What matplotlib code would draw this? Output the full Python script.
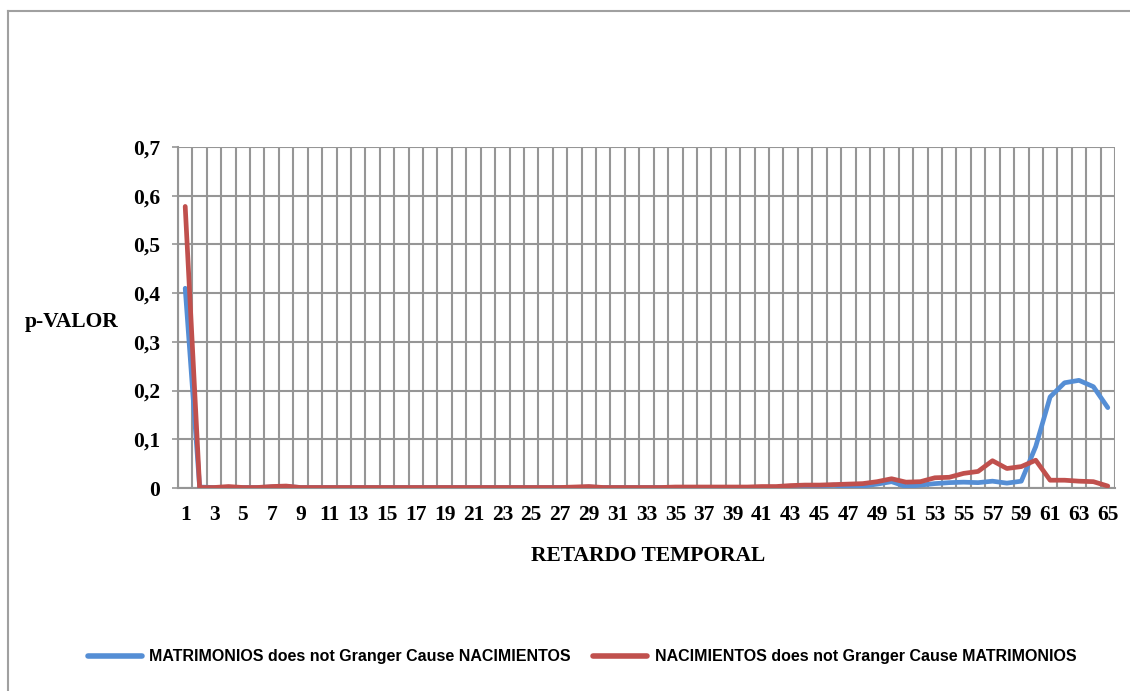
import numpy as np
import matplotlib
matplotlib.use('Agg')
import matplotlib.pyplot as plt
from matplotlib.lines import Line2D

# retardos temporales 1..65
retardos = list(range(1, 66))

# p-valores del test de causalidad de Granger
mat_nac = [0.410, 0.002, 0.001, 0.001, 0.001, 0.001, 0.002, 0.003, 0.001, 0.001,
           0.001, 0.001, 0.001, 0.001, 0.001, 0.001, 0.001, 0.001, 0.001, 0.001,
           0.001, 0.001, 0.001, 0.001, 0.001, 0.001, 0.001, 0.001, 0.002, 0.001,
           0.001, 0.001, 0.001, 0.001, 0.001, 0.001, 0.001, 0.001, 0.001, 0.001,
           0.001, 0.001, 0.003, 0.004, 0.004, 0.006, 0.002, 0.004, 0.008, 0.013,
           0.003, 0.006, 0.009, 0.011, 0.012, 0.011, 0.014, 0.010, 0.014, 0.085,
           0.187, 0.216, 0.221, 0.208, 0.165]

nac_mat = [0.578, 0.001, 0.001, 0.003, 0.001, 0.001, 0.003, 0.004, 0.001, 0.001,
           0.001, 0.001, 0.001, 0.001, 0.001, 0.001, 0.001, 0.001, 0.001, 0.001,
           0.001, 0.001, 0.001, 0.001, 0.001, 0.001, 0.001, 0.002, 0.003, 0.001,
           0.001, 0.001, 0.001, 0.001, 0.002, 0.002, 0.002, 0.002, 0.002, 0.002,
           0.003, 0.003, 0.005, 0.006, 0.006, 0.007, 0.008, 0.009, 0.013, 0.019,
           0.012, 0.013, 0.021, 0.022, 0.030, 0.034, 0.056, 0.040, 0.044, 0.057,
           0.016, 0.016, 0.014, 0.013, 0.004]

nombres = ['MATRIMONIOS does not Granger Cause NACIMIENTOS',
           'NACIMIENTOS does not Granger Cause MATRIMONIOS']
colores = ['#558ED5', '#C0504D']

y_ticks = [0, 0.1, 0.2, 0.3, 0.4, 0.5, 0.6, 0.7]
y_labels = ['0', '0,1', '0,2', '0,3', '0,4', '0,5', '0,6', '0,7']

serif = {'family': 'Liberation Serif', 'weight': 'bold'}
gris = '#969696'
tam = 15.5

fig = plt.figure(figsize=(11.3, 6.91), dpi=100)
ax = fig.add_axes([178 / 1130, 1 - 488 / 691, (1115 - 178) / 1130, (488 - 147) / 691])

ax.plot(retardos, mat_nac, color=colores[0], lw=3.4, solid_capstyle='round',
        solid_joinstyle='round', zorder=3)
ax.plot(retardos, nac_mat, color=colores[1], lw=3.4, solid_capstyle='round',
        solid_joinstyle='round', zorder=4)

ax.set_xlim(0.5, 65.5)
ax.set_ylim(0, 0.7)

ax.set_xticks(retardos[::2])
ax.set_xticklabels([str(r) for r in retardos[::2]], fontdict=serif, fontsize=tam)
ax.set_xticks(np.arange(0.5, 66, 1), minor=True)
ax.set_yticks(y_ticks)
ax.set_yticklabels(y_labels, fontdict=serif, fontsize=tam)
ax.tick_params(axis='x', which='both', length=0, pad=12)
ax.tick_params(axis='y', length=4, color=gris, width=1.2, pad=9)

ax.grid(True, axis='y', which='major', color=gris, lw=1.5)
ax.grid(True, axis='x', which='minor', color=gris, lw=1.5)
ax.grid(False, axis='x', which='major')
ax.set_axisbelow(True)

for lado in ['top', 'right']:
    ax.spines[lado].set_visible(False)
for lado in ['left', 'bottom']:
    ax.spines[lado].set_color(gris)
    ax.spines[lado].set_linewidth(1.5)

fig.text(72 / 1130, 1 - 322 / 691, 'p-VALOR', fontdict=serif, fontsize=tam,
         ha='center', va='center')
fig.text(648 / 1130, 1 - 556 / 691, 'RETARDO TEMPORAL', fontdict=serif, fontsize=tam,
         ha='center', va='center')

handles = [Line2D([], [], color=c, lw=4, solid_capstyle='round') for c in colores]
fig.legend(handles, nombres, loc='center', bbox_to_anchor=(582 / 1130, 1 - 657 / 691),
           ncol=2, frameon=False, handlelength=3.4, columnspacing=1.4, handletextpad=0.45,
           prop={'family': 'Liberation Sans', 'weight': 'bold', 'size': 11.5})

# marco exterior
fig.add_artist(Line2D([8 / 1130, 1], [1 - 11 / 691] * 2, color='#a0a0a0', lw=1.5))
fig.add_artist(Line2D([8 / 1130] * 2, [0, 1 - 11 / 691], color='#a0a0a0', lw=1.5))

fig.savefig('out.png', dpi=100)
